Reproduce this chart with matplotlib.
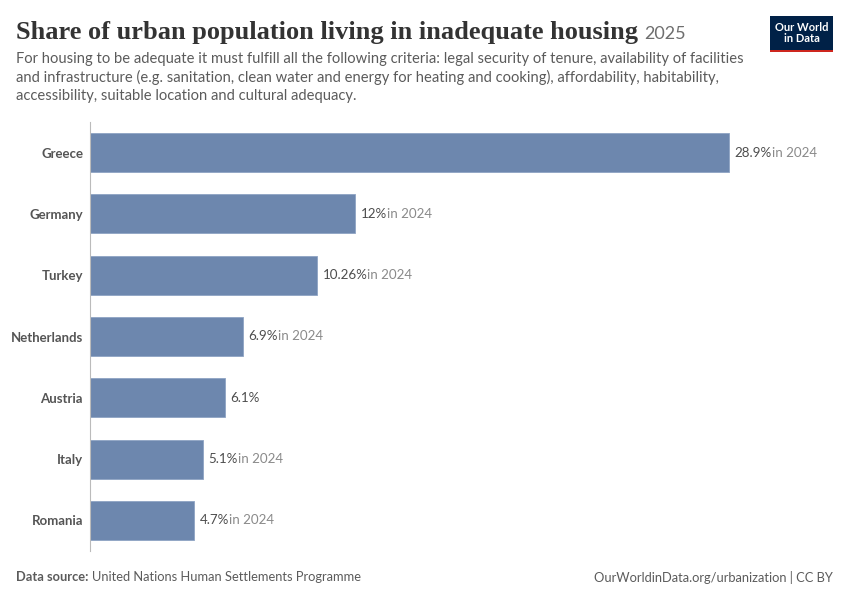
import matplotlib
matplotlib.use('Agg')
import matplotlib.pyplot as plt
from matplotlib.patches import Rectangle

countries = ['Greece', 'Germany', 'Turkey', 'Netherlands', 'Austria', 'Italy', 'Romania']
shares = [28.9, 12.0, 10.26, 6.9, 6.1, 5.1, 4.7]
value_labels = ['28.9%', '12%', '10.26%', '6.9%', '6.1%', '5.1%', '4.7%']
year_notes = ['in 2024', 'in 2024', 'in 2024', 'in 2024', '', 'in 2024', 'in 2024']

title = 'Share of urban population living in inadequate housing'
title_year = '2025'
subtitle = ('For housing to be adequate it must fulfill all the following criteria: legal security of tenure, availability of facilities\n'
            'and infrastructure (e.g. sanitation, clean water and energy for heating and cooking), affordability, habitability,\n'
            'accessibility, suitable location and cultural adequacy.')

plt.rcParams['font.family'] = ['Lato', 'DejaVu Sans']

W, H = 850, 600
fig = plt.figure(figsize=(W / 100, H / 100), dpi=100)
fig.set_facecolor('white')

# axes box in pixel terms: x 90..830, y 122..551
ax = fig.add_axes([90 / W, 1 - 551 / H, 740 / W, (551 - 122) / H])
ypos = list(range(len(countries)))
ax.barh(ypos, shares, height=0.635, color='#6d87ae', edgecolor='#8ea3c4', linewidth=0.6)
ax.set_xlim(0, 740 / (639 / 28.9))
ax.set_ylim(6.5, -0.5)
ax.set_yticks(ypos)
ax.set_yticklabels(countries, fontsize=9.5, fontweight='bold', color='#555555')
ax.tick_params(axis='y', length=0, pad=5)
ax.set_xticks([])
for s in ['top', 'right', 'bottom']:
    ax.spines[s].set_visible(False)
ax.spines['left'].set_color('#bbbbbb')
ax.spines['left'].set_linewidth(0.8)

fig.canvas.draw()
renderer = fig.canvas.get_renderer()

for y, v, lab, note in zip(ypos, shares, value_labels, year_notes):
    t = ax.annotate(lab, (v, y), xytext=(4, 0), textcoords='offset points',
                    va='center', ha='left', fontsize=9.6, color='#4d4d4d')
    if note:
        bb = t.get_window_extent(renderer)
        xr = ax.transData.inverted().transform((bb.x1, 0))[0]
        ax.annotate(note, (xr, y), xytext=(0, 0), textcoords='offset points',
                    va='center', ha='left', fontsize=9.6, color='#8a8a8a')

# title
tt = fig.text(16 / W, 1 - 32 / H, title, fontsize=19, family=['Liberation Serif', 'DejaVu Serif'],
              color='#333333', va='center', ha='left', fontweight='bold')
bb = tt.get_window_extent(renderer)
fig.text(bb.x1 / W + 6 / W, 1 - 34 / H, title_year, fontsize=13, color='#6e6e6e', va='center', ha='left')

fig.text(16 / W, 1 - 52 / H, subtitle, fontsize=10.65, color='#5b5b5b', va='top', ha='left',
         linespacing=1.36)

# logo
fig.patches.append(Rectangle((770 / W, 1 - 50 / H), 63 / W, 34 / H, transform=fig.transFigure,
                             facecolor='#002147', edgecolor='none'))
fig.patches.append(Rectangle((770 / W, 1 - 52 / H), 63 / W, 2.5 / H, transform=fig.transFigure,
                             facecolor='#ce261e', edgecolor='none'))
fig.text(801.5 / W, 1 - 33 / H, 'Our World\nin Data', fontsize=8, color='white', fontweight='bold',
         ha='center', va='center', linespacing=1.05)

# footer
ds = fig.text(16 / W, 1 - 577 / H, 'Data source:', fontsize=9.3, color='#5b5b5b', fontweight='bold',
              va='center', ha='left')
bb = ds.get_window_extent(renderer)
fig.text(bb.x1 / W + 4 / W, 1 - 577 / H, 'United Nations Human Settlements Programme', fontsize=9.3,
         color='#5b5b5b', va='center', ha='left')
fig.text(833 / W, 1 - 577 / H, 'OurWorldinData.org/urbanization | CC BY', fontsize=9.3, color='#5b5b5b',
         va='center', ha='right')

fig.savefig('out.png', dpi=100, facecolor='white')
